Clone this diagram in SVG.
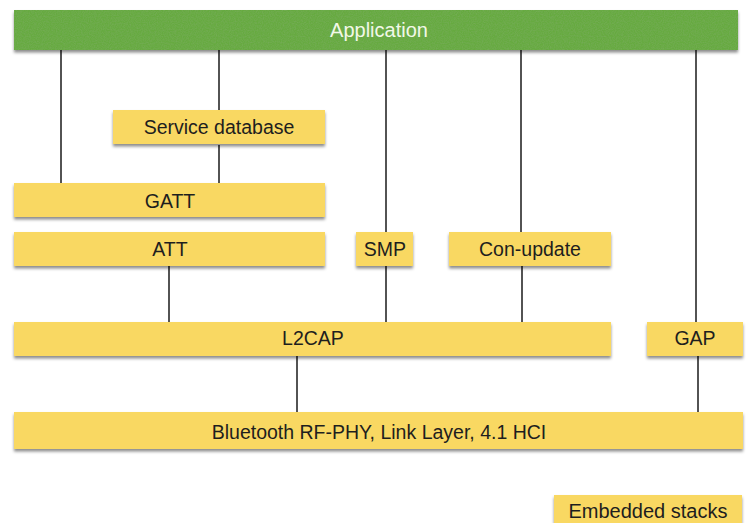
<svg xmlns="http://www.w3.org/2000/svg" width="750" height="523" viewBox="0 0 750 523">
  <style>
    .box { fill: #F9D862; filter: url(#shadow); }
    .lbl { font-family: "Liberation Sans", Arial, sans-serif; font-size: 19.5px; fill: #1e1e1e; text-anchor: middle; dominant-baseline: central; }
    .app { fill: #f2f8e8; font-size: 20px; }
    .wire { stroke: #1a1a1a; stroke-width: 1.5; fill: none; }
  </style>
  <defs>
    <filter id="shadow" x="-5%" y="-20%" width="110%" height="160%">
      <feDropShadow dx="0" dy="2.5" stdDeviation="1.6" flood-color="#000" flood-opacity="0.45"/>
    </filter>
    <filter id="grain" x="0" y="0" width="100%" height="100%">
      <feTurbulence type="fractalNoise" baseFrequency="0.85" numOctaves="2" seed="3" result="n"/>
      <feColorMatrix in="n" type="matrix" values="0 0 0 0 0.2  0 0 0 0 0.42  0 0 0 0 0.12  0 0 0 1.1 -0.35" result="tint"/>
      <feComposite in="tint" in2="SourceGraphic" operator="in"/>
    </filter>
  </defs>
  <rect width="750" height="523" fill="#ffffff"/>

  <!-- connectors -->
  <g id="connectors">
    <line class="wire" x1="61" y1="50" x2="61" y2="183"/>
    <line class="wire" x1="219" y1="50" x2="219" y2="110"/>
    <line class="wire" x1="219" y1="145" x2="219" y2="183"/>
    <line class="wire" x1="386" y1="50" x2="386" y2="232"/>
    <line class="wire" x1="521" y1="50" x2="521" y2="232"/>
    <line class="wire" x1="696" y1="50" x2="696" y2="322"/>
    <line class="wire" x1="169" y1="266" x2="169" y2="322"/>
    <line class="wire" x1="386" y1="266" x2="386" y2="322"/>
    <line class="wire" x1="522" y1="266" x2="522" y2="322"/>
    <line class="wire" x1="297" y1="356" x2="297" y2="412"/>
    <line class="wire" x1="698" y1="356" x2="698" y2="412"/>
  </g>

  <g id="application">
    <rect x="14" y="10" width="724" height="40" fill="#66AA40" filter="url(#shadow)"/>
    <rect x="14" y="10" width="724" height="40" fill="#66AA40" filter="url(#grain)"/>
    <text class="lbl app" x="379" y="30">Application</text>
  </g>

  <g id="service-database">
    <rect class="box" x="113" y="110" width="212" height="34"/>
    <text class="lbl" x="219" y="127">Service database</text>
  </g>

  <g id="gatt">
    <rect class="box" x="14" y="183" width="311" height="34"/>
    <text class="lbl" x="170" y="201">GATT</text>
  </g>

  <g id="att">
    <rect class="box" x="14" y="232" width="311" height="34"/>
    <text class="lbl" x="170" y="249">ATT</text>
  </g>

  <g id="smp">
    <rect class="box" x="356" y="232" width="57" height="34"/>
    <text class="lbl" x="385" y="249">SMP</text>
  </g>

  <g id="con-update">
    <rect class="box" x="449" y="232" width="162" height="34"/>
    <text class="lbl" x="530" y="249">Con-update</text>
  </g>

  <g id="l2cap">
    <rect class="box" x="14" y="322" width="597" height="34"/>
    <text class="lbl" x="313" y="338">L2CAP</text>
  </g>

  <g id="gap">
    <rect class="box" x="647" y="322" width="96" height="34"/>
    <text class="lbl" x="695" y="338">GAP</text>
  </g>

  <g id="controller">
    <rect class="box" x="14" y="412" width="729" height="37"/>
    <text class="lbl" x="379" y="432">Bluetooth RF-PHY, Link Layer, 4.1 HCI</text>
  </g>

  <g id="embedded-stacks">
    <rect class="box" x="554" y="495" width="188" height="34"/>
    <text class="lbl" x="648" y="511" style="font-size:20px">Embedded stacks</text>
  </g>
</svg>
